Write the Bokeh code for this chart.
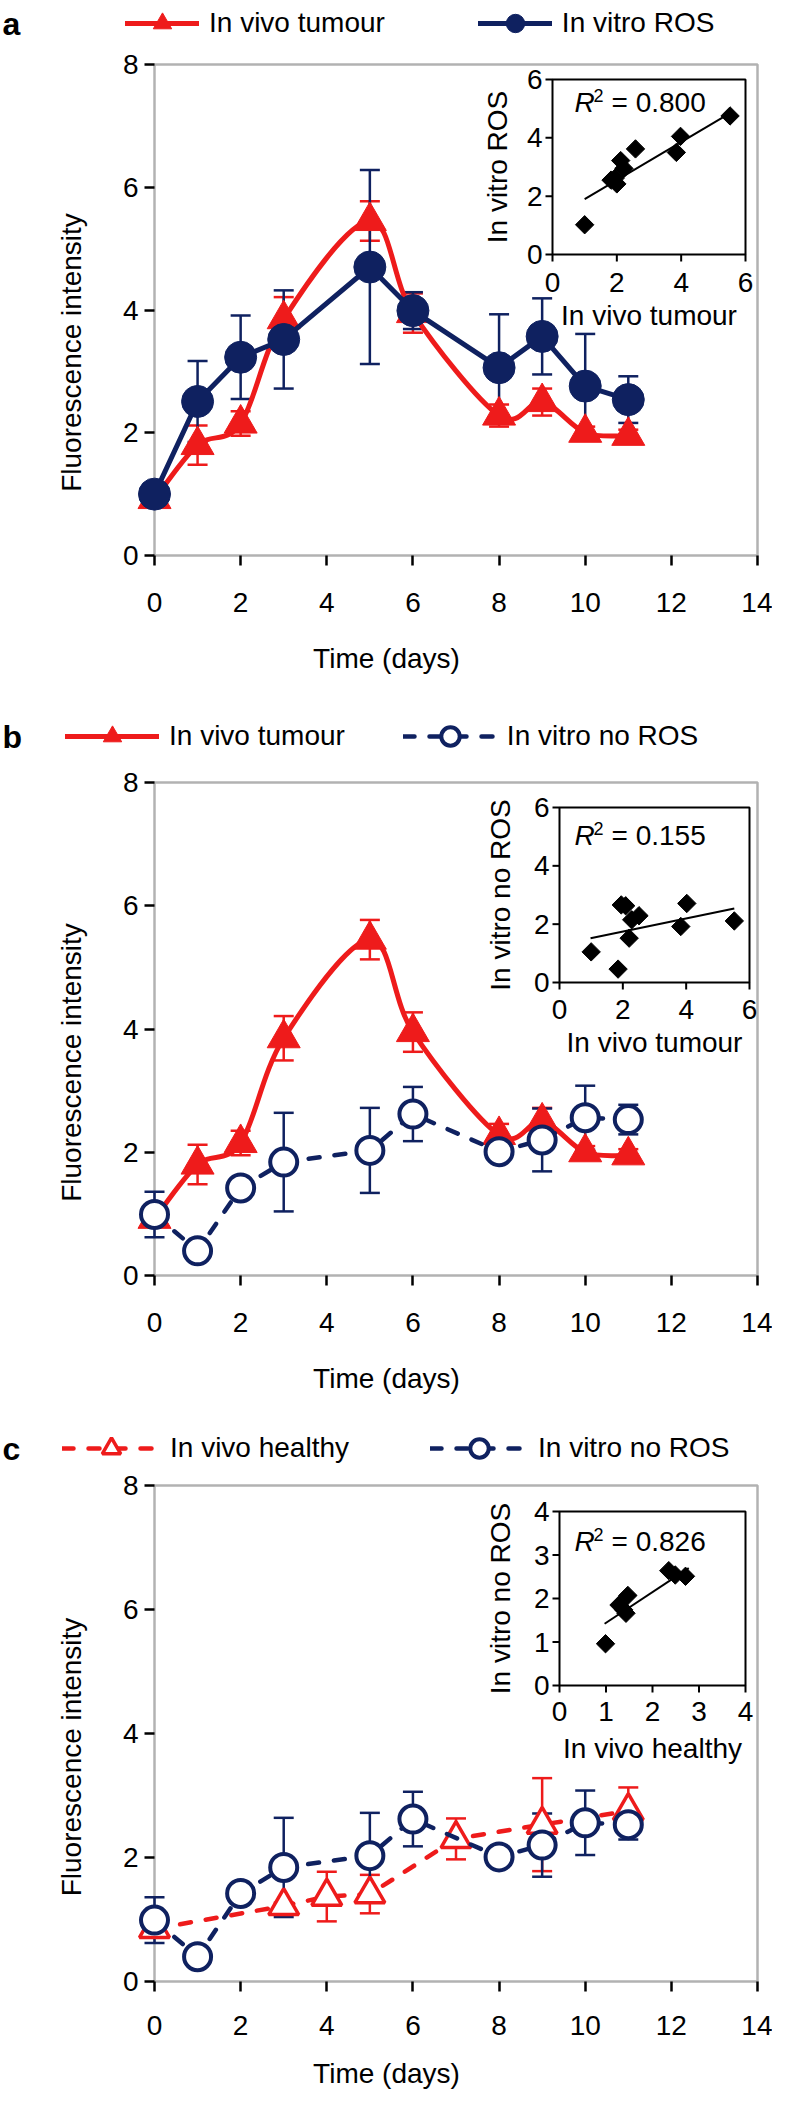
import math
from bokeh.plotting import figure
from bokeh.models import (Range1d, FixedTicker, BoxAnnotation, Legend, LegendItem,
                          Whisker, TeeHead, ColumnDataSource, Label)
from bokeh.layouts import column
from bokeh.embed import file_html
from bokeh.resources import INLINE
from bokeh.core.properties import value

# ---------------- data ----------------
tumour_days = [0, 1, 2, 3, 5, 6, 8, 9, 10, 11]
tumour_vals = [0.92, 1.80, 2.15, 3.85, 5.45, 3.95, 2.28, 2.50, 2.00, 1.95]
tumour_errs = [0.10, 0.32, 0.20, 0.36, 0.32, 0.32, 0.18, 0.22, 0.10, 0.10]

ros_days = [0, 1, 2, 3, 5, 6, 8, 9, 10, 11]
ros_vals = [1.00, 2.51, 3.23, 3.52, 4.70, 3.99, 3.06, 3.57, 2.76, 2.54]
ros_errs = [0.05, 0.66, 0.68, 0.80, 1.58, 0.30, 0.87, 0.62, 0.85, 0.38]

noros_days = [0, 1, 2, 3, 5, 6, 8, 9, 10, 11]
noros_vals = [0.99, 0.40, 1.42, 1.84, 2.03, 2.62, 2.01, 2.20, 2.56, 2.53]
noros_errs = [0.37, 0.05, 0.05, 0.80, 0.69, 0.44, 0.05, 0.51, 0.52, 0.24]

healthy_days = [0, 3, 4, 5, 7, 9, 11]
healthy_vals = [0.85, 1.22, 1.37, 1.41, 2.30, 2.53, 2.75]
healthy_errs = [0.10, 0.05, 0.40, 0.31, 0.33, 0.75, 0.38]

x_ticks = [0, 2, 4, 6, 8, 10, 12, 14]
y_ticks = [0, 2, 4, 6, 8]

# insets: in vitro vs in vivo scatter + trend line
inset_a_x = [1.00, 1.82, 2.00, 2.12, 2.22, 2.58, 3.85, 3.98, 5.52, 1.95]
inset_a_y = [1.02, 2.55, 2.42, 3.22, 2.95, 3.62, 3.50, 4.05, 4.75, 2.62]
trend_a_x = [1.00, 5.48]
trend_a_y = [1.90, 4.82]
inset_a_ticks = [0, 2, 4, 6]

inset_b_x = [1.00, 1.85, 1.95, 2.09, 2.20, 2.28, 2.51, 3.83, 4.02, 5.52]
inset_b_y = [1.05, 0.46, 2.66, 2.63, 1.52, 2.15, 2.29, 1.92, 2.71, 2.11]
trend_b_x = [0.98, 5.52]
trend_b_y = [1.52, 2.54]
inset_b_ticks = [0, 2, 4, 6]

inset_c_x = [0.99, 1.28, 1.38, 1.43, 1.47, 2.35, 2.49, 2.71]
inset_c_y = [0.96, 1.85, 1.74, 1.66, 2.07, 2.64, 2.54, 2.51]
trend_c_x = [0.97, 2.78]
trend_c_y = [1.42, 2.70]
inset_c_ticks = [0, 1, 2, 3, 4]

# ---------------- style ----------------
RED = "#ee1b1b"
NAVY = "#0f2160"
FONT = "Liberation Sans"
FS = "28px"

FIG_W = 772
PAGE_L = 8
FRAME_L = 8       # page x of frame left edge (frame = whole figure)
FRAME_R = 780     # page x of frame right edge
X0_PX = 162       # page x of day 0
X14_PX = 765      # page x of day 14


def smooth_bezier(xs, ys, t=1.0 / 6.0):
    n = len(xs)
    d = dict(x0=[], y0=[], x1=[], y1=[], cx0=[], cy0=[], cx1=[], cy1=[])
    for i in range(n - 1):
        im = max(i - 1, 0)
        ip2 = min(i + 2, n - 1)
        d["x0"].append(xs[i]); d["y0"].append(ys[i])
        d["x1"].append(xs[i + 1]); d["y1"].append(ys[i + 1])
        d["cx0"].append(xs[i] + (xs[i + 1] - xs[im]) * t)
        d["cy0"].append(ys[i] + (ys[i + 1] - ys[im]) * t)
        d["cx1"].append(xs[i + 1] - (xs[ip2] - xs[i]) * t)
        d["cy1"].append(ys[i + 1] - (ys[ip2] - ys[i]) * t)
    return d


def draw_series(p, days, vals, errs, color, dashed, smooth, marker, filled, size, mlw):
    src = ColumnDataSource(dict(x=days,
                                upper=[v + e for v, e in zip(vals, errs)],
                                lower=[v - e for v, e in zip(vals, errs)]))
    w = Whisker(source=src, base="x", upper="upper", lower="lower",
                line_color=color, line_width=2.5, level="underlay",
                upper_head=TeeHead(size=20, line_color=color, line_width=2.5),
                lower_head=TeeHead(size=20, line_color=color, line_width=2.5))
    p.add_layout(w)
    lkw = dict(line_color=color, line_width=5 if not dashed else 4.5, line_cap="round", line_join="round")
    if dashed:
        lkw["line_dash"] = "11 15"
    if smooth:
        bz = smooth_bezier(days, vals)
        lr = p.bezier(source=ColumnDataSource(bz), x0="x0", y0="y0", x1="x1", y1="y1",
                      cx0="cx0", cy0="cy0", cx1="cx1", cy1="cy1", **lkw)
    else:
        lr = p.line(days, vals, **lkw)
    sr = p.scatter(days, vals, marker=marker, size=size,
                   fill_color=color if filled else "white", line_color=color, line_width=mlw)
    return [lr, sr]


def add_inset(p, name, frame_px, box_px, xr, yr, xticks, yticks, xs, ys, tx, ty,
              xlabel, ylabel, r2, r2_off, xtick_off, xlabel_off, ylabel_off):
    FL, FR, FT, FB = frame_px
    il, ir, it, ib = box_px
    sx = (ir - il) / (xr[1] - xr[0])
    sy = (ib - it) / (yr[1] - yr[0])
    p.extra_x_ranges[name] = Range1d(xr[0] - (il - FL) / sx, xr[1] + (FR - ir) / sx)
    p.extra_y_ranges[name] = Range1d(yr[0] - (FB - ib) / sy, yr[1] + (it - FT) / sy)
    kw = dict(x_range_name=name, y_range_name=name)
    p.quad(left=[xr[0]], right=[xr[1]], bottom=[yr[0]], top=[yr[1]],
           fill_color=None, line_color="black", line_width=2, **kw)
    tl = 7.0
    p.segment(x0=[xr[0]] * len(yticks), x1=[xr[0] - tl / sx] * len(yticks), y0=yticks, y1=yticks,
              line_color="black", line_width=2, **kw)
    p.segment(x0=xticks, x1=xticks, y0=[yr[0]] * len(xticks), y1=[yr[0] - tl / sy] * len(xticks),
              line_color="black", line_width=2, **kw)
    tkw = dict(text_font=value(FONT), text_font_size=value(FS), text_color="black")
    p.text(x=[xr[0]] * len(yticks), y=yticks, text=[str(t) for t in yticks], x_offset=-10,
           text_align="right", text_baseline="middle", **tkw, **kw)
    p.text(x=xticks, y=[yr[0]] * len(xticks), text=[str(t) for t in xticks], y_offset=xtick_off,
           text_align="center", text_baseline="middle", **tkw, **kw)
    p.text(x=[(xr[0] + xr[1]) / 2], y=[yr[0]], text=[xlabel], y_offset=xlabel_off,
           text_align="center", text_baseline="middle", **tkw, **kw)
    p.text(x=[xr[0]], y=[(yr[0] + yr[1]) / 2], text=[ylabel], x_offset=ylabel_off, angle=math.pi / 2,
           text_align="center", text_baseline="middle", **tkw, **kw)
    # trend line and points
    p.line(tx, ty, line_color="black", line_width=2, **kw)
    p.scatter(xs, ys, marker="square", angle=math.pi / 4, size=13, fill_color="black",
              line_color="black", **kw)
    # R^2 text
    ox, oy = r2_off
    p.text(x=[xr[0]], y=[yr[1]], text=["R"], x_offset=ox, y_offset=oy, text_font_style="italic",
           text_align="left", text_baseline="middle", **tkw, **kw)
    p.text(x=[xr[0]], y=[yr[1]], text=["2"], x_offset=ox + 19, y_offset=oy - 7,
           text_font=value(FONT), text_font_size=value("18px"), text_color="black",
           text_align="left", text_baseline="middle", **kw)
    p.text(x=[xr[0]], y=[yr[1]], text=["= " + r2], x_offset=ox + 37, y_offset=oy,
           text_align="left", text_baseline="middle", **tkw, **kw)


def build_panel(cfg):
    fig_top, fig_bot = cfg["fig"]
    box_top, box_bot = cfg["box"]
    h = fig_bot - fig_top
    pxx = (X14_PX - X0_PX) / 14.0
    x_start = -(X0_PX - FRAME_L) / pxx
    x_end = 14 + (FRAME_R - X14_PX) / pxx
    pxy = (box_bot - box_top) / 8.0
    y_start = -(fig_bot - box_bot) / pxy
    y_end = (box_bot - fig_top) / pxy
    p = figure(width=FIG_W, height=h, x_range=Range1d(x_start, x_end), y_range=Range1d(y_start, y_end),
               output_backend="svg", toolbar_location=None,
               min_border_left=0, min_border_right=0, min_border_top=0, min_border_bottom=0)
    p.outline_line_color = None
    p.grid.visible = False
    p.background_fill_color = "white"
    p.border_fill_color = "white"

    for ax in (p.xaxis[0], p.yaxis[0]):
        ax.axis_line_color = None
        ax.major_tick_out = 10
        ax.major_tick_in = 0
        ax.minor_tick_line_color = None
        ax.major_tick_line_width = 2.5
        ax.major_tick_line_color = "black"
        ax.major_label_text_font = FONT
        ax.major_label_text_font_size = FS
        ax.major_label_text_color = "black"
        ax.axis_label_text_font = FONT
        ax.axis_label_text_font_size = FS
        ax.axis_label_text_font_style = "normal"
        ax.axis_label_text_color = "black"
        ax.fixed_location = 0
    p.xaxis.ticker = FixedTicker(ticks=x_ticks)
    p.yaxis.ticker = FixedTicker(ticks=y_ticks)
    p.xaxis.axis_label = "Time (days)"
    p.yaxis.axis_label = "Fluorescence intensity"
    p.xaxis.major_label_standoff = cfg["xstand"]
    p.xaxis.axis_label_standoff = cfg["xlstand"]
    p.yaxis.major_label_standoff = 6
    p.yaxis.axis_label_standoff = 33

    box = BoxAnnotation(left=0, right=14, bottom=0, top=8, fill_alpha=0,
                        line_color="black", line_width=2.5, level="underlay")
    p.add_layout(box)

    items = []
    for s in cfg["series"]:
        rs = draw_series(p, *s["data"], color=s["color"], dashed=s["dashed"], smooth=s["smooth"],
                         marker=s["marker"], filled=s["filled"], size=s["size"], mlw=s["mlw"])
        items.append(LegendItem(label=s["label"], renderers=rs))

    frame_h = fig_bot - fig_top
    lg_h = 46
    lg_top = cfg["legend_cy"] - lg_h / 2 - fig_top
    leg = Legend(items=items, orientation="horizontal",
                 location=(cfg["legend_x"] - FRAME_L, frame_h - lg_top - lg_h),
                 glyph_width=cfg["gw"], glyph_height=lg_h, label_height=lg_h,
                 label_standoff=10, spacing=cfg["spacing"], padding=0, margin=0,
                 border_line_color=None, background_fill_alpha=0,
                 label_text_font=FONT, label_text_font_size=FS, label_text_color="black")
    p.add_layout(leg)

    # panel letter
    p.add_layout(Label(x=(10 - X0_PX) / pxx, y=(box_bot - cfg["legend_cy"]) / pxy, text=cfg["letter"],
                       text_font="Liberation Sans", text_font_style="bold", text_font_size="32px",
                       text_color="black", text_align="left", text_baseline="middle"))

    ins = cfg["inset"]
    add_inset(p, "inset", (FRAME_L, FRAME_R, fig_top, fig_bot), ins["box"], ins["xr"], ins["yr"],
              ins["ticks"], ins["ticks"], ins["xs"], ins["ys"], ins["tx"], ins["ty"],
              ins["xlabel"], ins["ylabel"], ins["r2"], ins["r2_off"],
              ins["xtick_off"], ins["xlabel_off"], ins["ylabel_off"])
    return p


tumour = dict(data=(tumour_days, tumour_vals, tumour_errs), color=RED, dashed=False, smooth=True,
              marker="triangle", filled=True, size=33, mlw=1, label="In vivo tumour")
ros = dict(data=(ros_days, ros_vals, ros_errs), color=NAVY, dashed=False, smooth=False,
           marker="circle", filled=True, size=32, mlw=1, label="In vitro ROS")
noros = dict(data=(noros_days, noros_vals, noros_errs), color=NAVY, dashed=True, smooth=False,
             marker="circle", filled=False, size=27, mlw=4, label="In vitro no ROS")
healthy = dict(data=(healthy_days, healthy_vals, healthy_errs), color=RED, dashed=True, smooth=False,
               marker="triangle", filled=False, size=30, mlw=3.5, label="In vivo healthy")

cfg_a = dict(fig=(8, 712), box=(72, 563), legend_cy=31, legend_x=133, gw=74, spacing=93,
             letter="a", xstand=27, xlstand=28, series=[tumour, ros],
             inset=dict(box=(560, 753, 87, 262), xr=(0, 6), yr=(0, 6), ticks=inset_a_ticks,
                        xs=inset_a_x, ys=inset_a_y, tx=trend_a_x, ty=trend_a_y,
                        xlabel="In vivo tumour", ylabel="In vitro ROS", r2="0.800",
                        r2_off=(22, 23), xtick_off=28, xlabel_off=61, ylabel_off=-55))
cfg_b = dict(fig=(712, 1428), box=(790, 1283), legend_cy=744, legend_x=73, gw=94, spacing=58,
             letter="b", xstand=27, xlstand=28, series=[tumour, noros],
             inset=dict(box=(567, 757, 815, 990), xr=(0, 6), yr=(0, 6), ticks=inset_b_ticks,
                        xs=inset_b_x, ys=inset_b_y, tx=trend_b_x, ty=trend_b_y,
                        xlabel="In vivo tumour", ylabel="In vitro no ROS", r2="0.155",
                        r2_off=(15, 28), xtick_off=27, xlabel_off=60, ylabel_off=-59))
cfg_c = dict(fig=(1428, 2101), box=(1493, 1989), legend_cy=1456, legend_x=70, gw=98, spacing=81,
             letter="c", xstand=24, xlstand=20, series=[healthy, noros],
             inset=dict(box=(567, 753, 1519, 1693), xr=(0, 4), yr=(0, 4), ticks=inset_c_ticks,
                        xs=inset_c_x, ys=inset_c_y, tx=trend_c_x, ty=trend_c_y,
                        xlabel="In vivo healthy", ylabel="In vitro no ROS", r2="0.826",
                        r2_off=(15, 30), xtick_off=26, xlabel_off=63, ylabel_off=-59))

pa = build_panel(cfg_a)
pb = build_panel(cfg_b)
pc = build_panel(cfg_c)
layout = column(pa, pb, pc, spacing=0)

open("out.html", "w").write(file_html(layout, INLINE))
